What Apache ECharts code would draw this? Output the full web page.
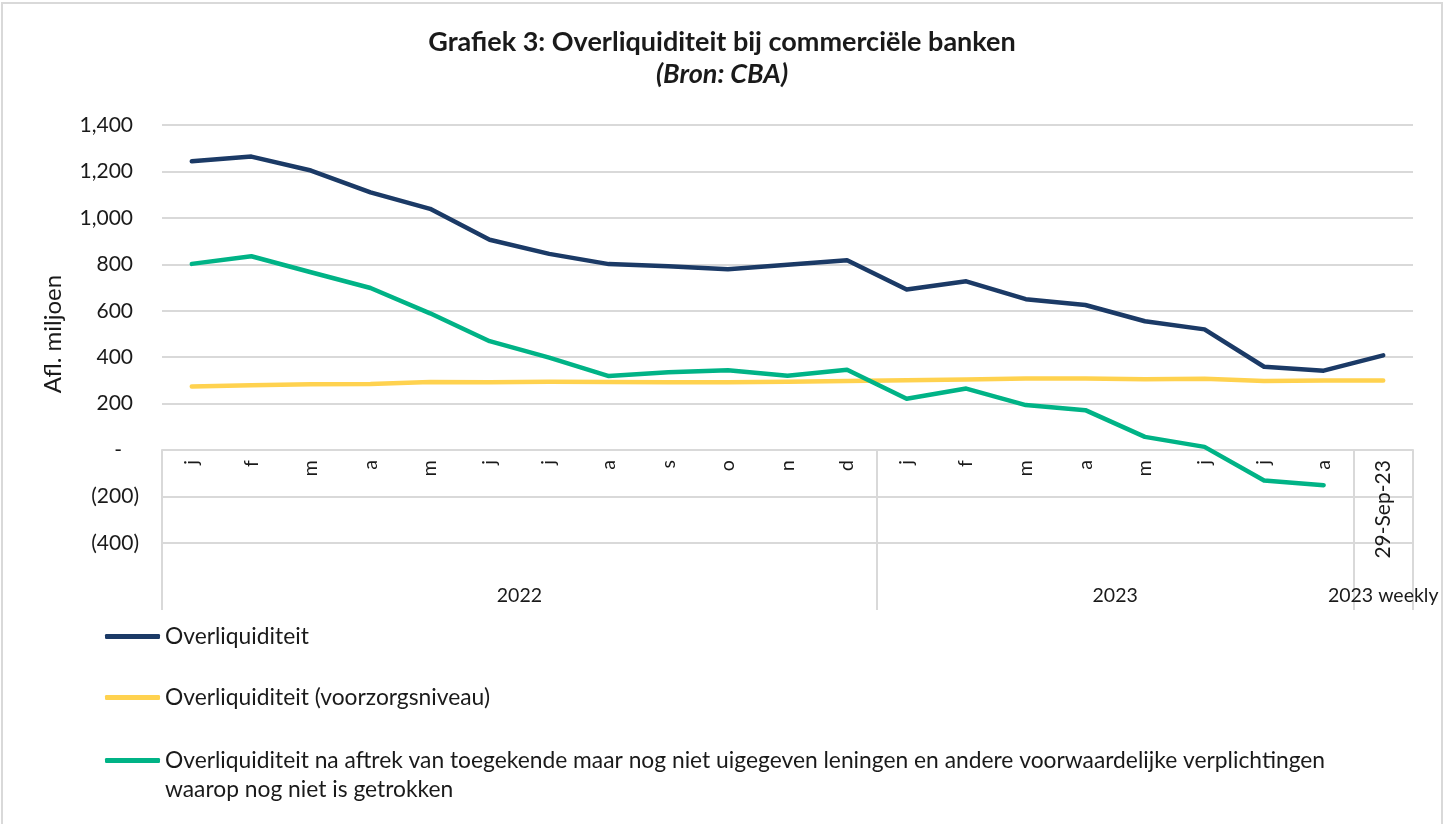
<!DOCTYPE html>
<html>
<head>
<meta charset="utf-8">
<script src="https://cdn.jsdelivr.net/npm/echarts@6/dist/echarts.min.js"></script>
<style>
  html, body { margin: 0; padding: 0; background: #fff; }
  #chart { position: absolute; left: 0; top: 0; width: 1456px; height: 824px; }
  #frame { position: absolute; left: 1px; top: 2px; width: 1438px; height: 840px; border: 2px solid #d9d9d9; pointer-events: none; }
</style>
</head>
<body>
<div id="chart"></div>
<div id="frame"></div>
<script>
// ---- data ----
const months = ['j','f','m','a','m','j','j','a','s','o','n','d','j','f','m','a','m','j','j','a','29-Sep-23'];
const groupLabels = ['2022', '2023', '2023 weekly'];
const groupSpans = [12, 8, 1];
const seriesNames = [
  'Overliquiditeit',
  'Overliquiditeit (voorzorgsniveau)',
  'Overliquiditeit na aftrek van toegekende maar nog niet uigegeven leningen en andere voorwaardelijke verplichtingen waarop nog niet is getrokken'
];
const overliquiditeit = [1244, 1264, 1204, 1110, 1039, 906, 845, 801, 792, 779, 798, 818, 692, 727, 650, 625, 555, 520, 359, 342, 408];
const voorzorgsniveau = [274, 279, 284, 285, 293, 292, 294, 293, 292, 292, 294, 298, 301, 304, 308, 308, 305, 307, 298, 300, 300];
const naAftrek = [802, 835, 766, 698, 589, 469, 398, 319, 335, 344, 320, 346, 221, 265, 194, 172, 57, 14, -131, -151, null];
const yTicks = { min: -400, max: 1400, step: 200 };

// ---- layout ----
const W = 1456, H = 824;
const G = { left: 162, right: 43, top: 125, bottom: 281 };
const gridH = H - G.top - G.bottom;
// move the category axis up to the zero line
const zeroOffset = -gridH * (0 - yTicks.min) / (yTicks.max - yTicks.min);

// ---- derived helpers ----
const groupStarts = [];
const groupCenters = {};
let acc = 0;
groupSpans.forEach((s, i) => { groupStarts.push(acc); groupCenters[acc + s / 2] = groupLabels[i]; acc += s; });

const FONT = 'Lato, "Open Sans", sans-serif';
const TXT = '#1a1a1a';
const GRID = '#d9d9d9';
const colors = ['#1b3a66', '#ffd24f', '#00b386'];

function fmt(n) { return n.toLocaleString('en-US'); }

const chart = echarts.init(document.getElementById('chart'));
const legendBase = {
  orient: 'vertical', left: 105, padding: 0, itemWidth: 55, itemHeight: 5, itemGap: 6,
  icon: 'roundRect',
  textStyle: { fontFamily: FONT, fontSize: 22.8, color: TXT }
};
chart.setOption({
  backgroundColor: '#fff',
  color: colors,
  title: {
    text: 'Grafiek 3: Overliquiditeit bij commerciële banken',
    subtext: '(Bron: CBA)',
    left: 717, top: 24, textAlign: 'center', itemGap: 5,
    textStyle: { fontFamily: FONT, fontSize: 27, fontWeight: 'bold', color: TXT },
    subtextStyle: { fontFamily: FONT, fontSize: 27, fontWeight: 'bold', fontStyle: 'italic', color: TXT }
  },
  legend: [
    Object.assign({}, legendBase, { top: 625, data: [seriesNames[0]] }),
    Object.assign({}, legendBase, { top: 686, data: [seriesNames[1]] }),
    Object.assign({}, legendBase, {
      top: 717, data: [seriesNames[2]],
      formatter: name => '\n' + name.replace('verplichtingen ', 'verplichtingen\n'),
      textStyle: { fontFamily: FONT, fontSize: 22.8, color: TXT, lineHeight: 29 }
    })
  ],
  grid: { left: G.left, right: G.right, top: G.top, bottom: G.bottom, containLabel: false },
  xAxis: [
    {
      type: 'category', data: months, boundaryGap: true, position: 'bottom',
      offset: zeroOffset,
      axisLine: { onZero: false, lineStyle: { color: GRID, width: 2 } },
      axisTick: {
        show: true, length: 160, inside: false,
        interval: (idx) => groupStarts.indexOf(idx) >= 0,
        lineStyle: { color: GRID, width: 2 }
      },
      axisLabel: {
        interval: 0, rotate: 90, margin: 10, fontFamily: FONT, fontSize: 19.5, color: TXT,
        formatter: v => v.length > 1 ? '{w|' + v + '}' : v,
        rich: { w: { fontFamily: FONT, fontSize: 21, color: TXT } }
      },
      splitLine: { show: false }
    },
    {
      type: 'value', min: 0, max: acc, interval: 0.5, position: 'bottom',
      axisLine: { show: false }, axisTick: { show: false }, splitLine: { show: false },
      axisLabel: {
        margin: 43, fontFamily: FONT, fontSize: 19.5, color: TXT,
        showMinLabel: true, showMaxLabel: true,
        formatter: v => groupCenters[v] || ''
      }
    }
  ],
  yAxis: {
    type: 'value', min: yTicks.min, max: yTicks.max, interval: yTicks.step,
    name: 'Afl. miljoen', nameLocation: 'middle', nameGap: 97, nameRotate: 90,
    nameTextStyle: { fontFamily: FONT, fontSize: 24, color: TXT },
    axisLine: { show: false }, axisTick: { show: false },
    splitLine: { lineStyle: { color: GRID, width: 2 } },
    axisLabel: {
      margin: 23,
      formatter: v => v === 0 ? '{z|-}' : (v < 0 ? '{n|(' + fmt(-v) + ')}' : '{p|' + fmt(v) + '}'),
      rich: {
        p: { fontFamily: FONT, fontSize: 21, color: TXT, padding: [0, 6, 0, 0] },
        z: { fontFamily: FONT, fontSize: 21, color: TXT, padding: [0, 17, 0, 0] },
        n: { fontFamily: FONT, fontSize: 21, color: TXT }
      }
    }
  },
  series: [
    { name: seriesNames[0], type: 'line', data: overliquiditeit, symbol: 'none', xAxisIndex: 0,
      lineStyle: { width: 4.5, cap: 'round', join: 'round', color: colors[0] }, z: 3 },
    { name: seriesNames[1], type: 'line', data: voorzorgsniveau, symbol: 'none', xAxisIndex: 0,
      lineStyle: { width: 4.5, cap: 'round', join: 'round', color: colors[1] }, z: 2 },
    { name: seriesNames[2], type: 'line', data: naAftrek, symbol: 'none', xAxisIndex: 0,
      lineStyle: { width: 4.5, cap: 'round', join: 'round', color: colors[2] }, z: 4 }
  ],
  animation: false
});
</script>
</body>
</html>
